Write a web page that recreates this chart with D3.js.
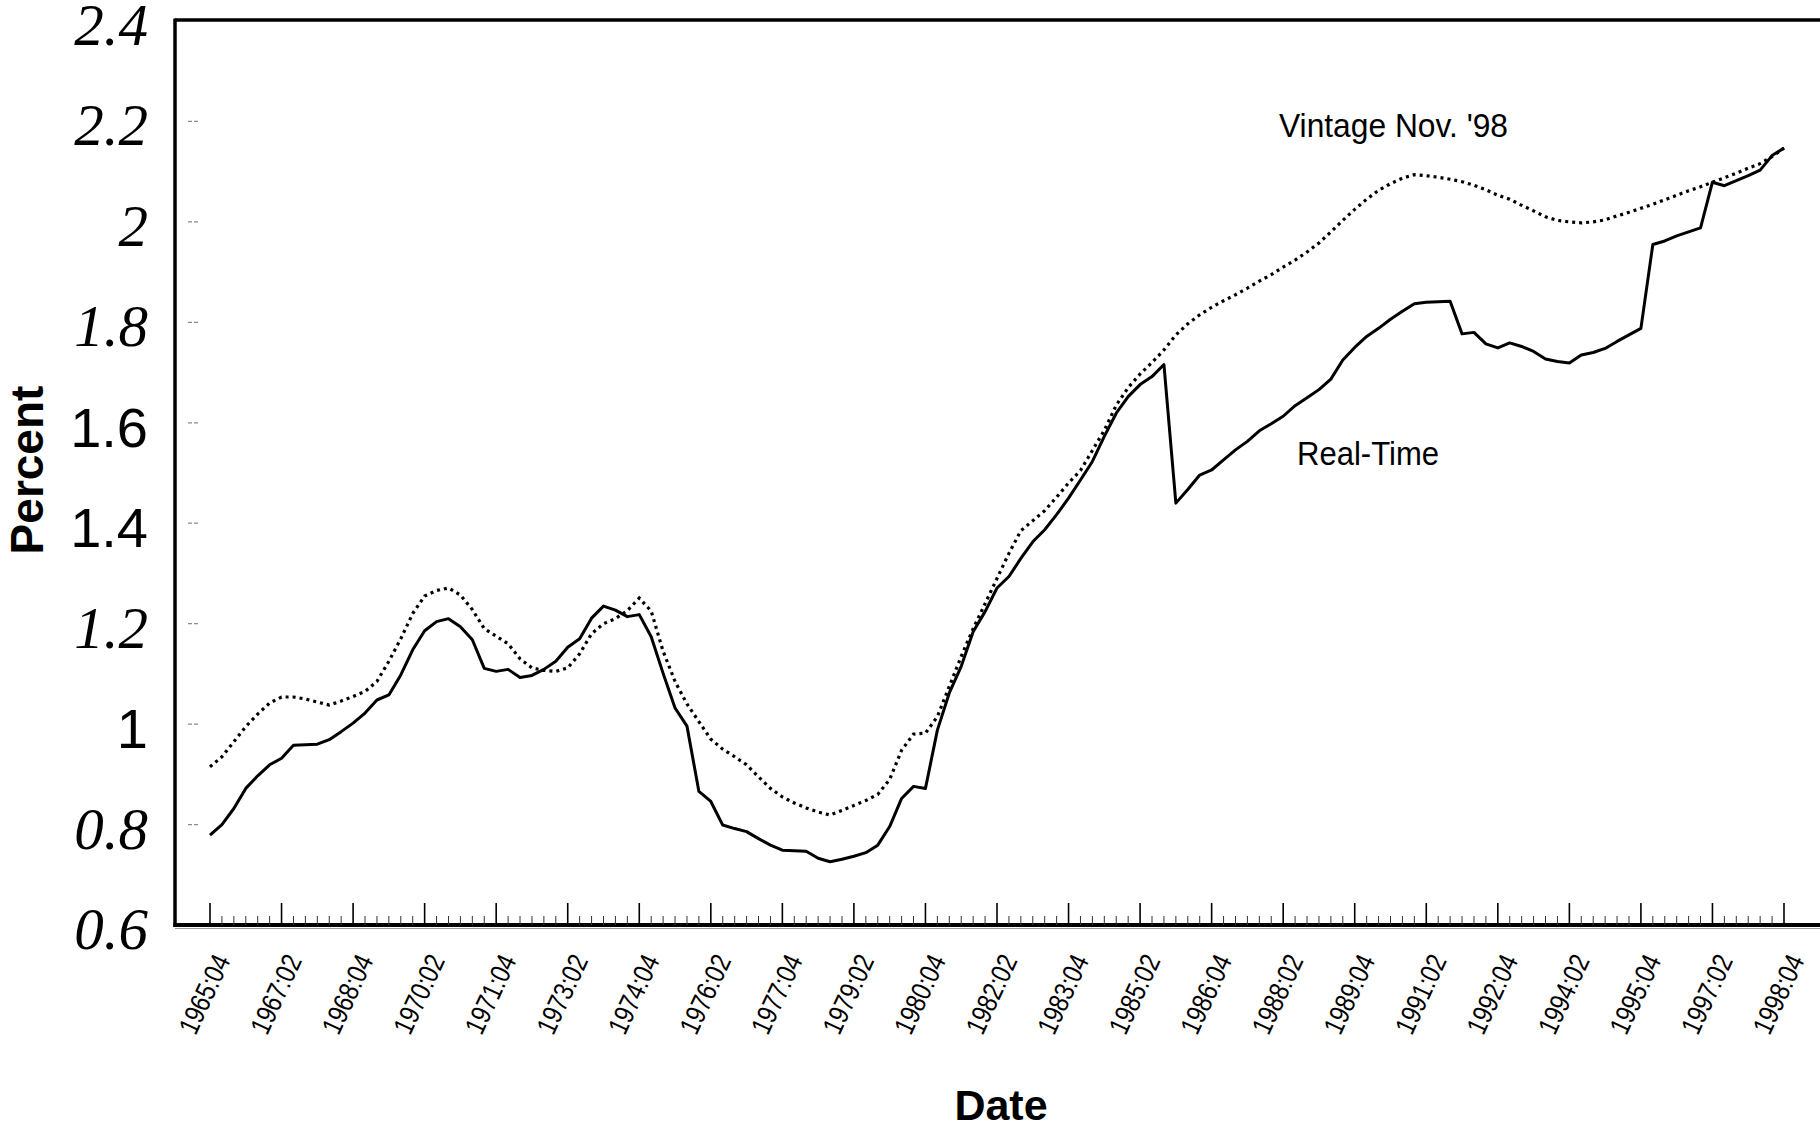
<!DOCTYPE html>
<html>
<head>
<meta charset="utf-8">
<script src="https://cdn.jsdelivr.net/npm/d3@7"></script>
<style>
  html, body { margin: 0; padding: 0; background: #fff; }
  svg { display: block; }
</style>
</head>
<body>
<svg id="chart" width="1820" height="1130"></svg>
<script>
// Quarterly observations, 1965:04 through 1998:04
const startYear = 1965;
const startQuarter = 4;
const endYear = 1998;
const endQuarter = 4;

// Labelled quarters along the date axis
const dateTickLabels = [
  "1965:04", "1967:02", "1968:04", "1970:02", "1971:04", "1973:02",
  "1974:04", "1976:02", "1977:04", "1979:02", "1980:04", "1982:02",
  "1983:04", "1985:02", "1986:04", "1988:02", "1989:04", "1991:02",
  "1992:04", "1994:02", "1995:04", "1997:02", "1998:04"
];

// Percent axis ticks
const percentTicks = [0.6, 0.8, 1.0, 1.2, 1.4, 1.6, 1.8, 2.0, 2.2, 2.4];
const percentTickLabels = ["0.6", "0.8", "1", "1.2", "1.4", "1.6", "1.8", "2", "2.2", "2.4"];

// Real-time series (solid line)
const realTime = [
  0.779, 0.800, 0.832, 0.872, 0.897, 0.919, 0.932, 0.958, 0.959, 0.960,
  0.969, 0.985, 1.002, 1.022, 1.048, 1.058, 1.098, 1.148, 1.186, 1.204,
  1.210, 1.194, 1.168, 1.111, 1.105, 1.109, 1.093, 1.097, 1.109, 1.125,
  1.153, 1.170, 1.211, 1.235, 1.227, 1.214, 1.218, 1.174, 1.101, 1.032,
  0.996, 0.866, 0.846, 0.799, 0.792, 0.786, 0.772, 0.759, 0.749, 0.748,
  0.747, 0.733, 0.726, 0.731, 0.737, 0.744, 0.759, 0.796, 0.852, 0.876,
  0.872, 0.988, 1.062, 1.115, 1.184, 1.224, 1.271, 1.294, 1.330, 1.363,
  1.387, 1.417, 1.450, 1.486, 1.523, 1.573, 1.619, 1.652, 1.676, 1.692,
  1.716, 1.440, 1.467, 1.496, 1.506, 1.526, 1.546, 1.563, 1.584, 1.598,
  1.613, 1.634, 1.650, 1.666, 1.687, 1.725, 1.750, 1.772, 1.788, 1.806,
  1.822, 1.837, 1.840, 1.841, 1.842, 1.777, 1.780, 1.757, 1.749, 1.759,
  1.752, 1.742, 1.727, 1.722, 1.719, 1.735, 1.740, 1.748, 1.762, 1.775,
  1.788, 1.955, 1.962, 1.972, 1.980, 1.988, 2.079, 2.072, 2.082, 2.092,
  2.103, 2.132, 2.147
];

// Vintage Nov. '98 series (dotted line)
const vintageNov98 = [
  0.915, 0.935, 0.965, 0.995, 1.020, 1.042, 1.054, 1.054, 1.050, 1.044,
  1.038, 1.046, 1.055, 1.065, 1.085, 1.125, 1.170, 1.220, 1.255, 1.266,
  1.271, 1.257, 1.228, 1.190, 1.175, 1.160, 1.130, 1.112, 1.107, 1.105,
  1.112, 1.140, 1.180, 1.200, 1.210, 1.226, 1.251, 1.225, 1.145, 1.085,
  1.040, 1.005, 0.970, 0.950, 0.935, 0.919, 0.895, 0.872, 0.855, 0.843,
  0.833, 0.825, 0.819, 0.828, 0.838, 0.848, 0.860, 0.890, 0.948, 0.980,
  0.982, 1.015, 1.075, 1.135, 1.190, 1.240, 1.290, 1.340, 1.385, 1.405,
  1.425, 1.452, 1.480, 1.505, 1.545, 1.585, 1.635, 1.670, 1.697, 1.720,
  1.745, 1.775, 1.797, 1.815, 1.830, 1.843, 1.855, 1.868, 1.882, 1.895,
  1.910, 1.924, 1.940, 1.958, 1.980, 2.003, 2.025, 2.045, 2.063, 2.076,
  2.087, 2.094, 2.092, 2.089, 2.085, 2.080, 2.073, 2.064, 2.053, 2.045,
  2.033, 2.022, 2.010, 2.003, 2.000, 1.998, 2.000, 2.004, 2.012, 2.019,
  2.027, 2.035, 2.044, 2.053, 2.062, 2.070, 2.079, 2.088, 2.097, 2.107,
  2.116, 2.130, 2.147
];

const seriesLabels = { vintage: "Vintage Nov. '98", realTime: "Real-Time" };
const axisTitles = { x: "Date", y: "Percent" };

// ---- quarter keys for the run of dates ----
const quarters = [];
for (let yr = startYear, qt = startQuarter; yr < endYear || (yr === endYear && qt <= endQuarter); ) {
  quarters.push(yr + ":0" + qt);
  qt += 1;
  if (qt > 4) { qt = 1; yr += 1; }
}

const svg = d3.select("#chart");
const W = 1820, H = 1130;
const plotLeft = 175, plotTop = 21, plotBottom = 925;

const x = d3.scalePoint().domain(quarters).range([210, 1784]);
const y = d3.scaleLinear().domain([0.6, 2.4]).range([plotBottom, plotTop]);

const sans = "'Liberation Sans', Arial, Helvetica, sans-serif";
const serif = "'Liberation Serif', 'Times New Roman', serif";

svg.append("rect").attr("width", W).attr("height", H).attr("fill", "#fff");

// ---- frame ----
const frame = svg.append("g").attr("stroke", "#000").attr("fill", "none");
frame.append("line").attr("x1", plotLeft).attr("x2", W).attr("y1", 20).attr("y2", 20).attr("stroke-width", 3.5);
frame.append("line").attr("x1", plotLeft).attr("x2", plotLeft).attr("y1", 18.5).attr("y2", plotBottom + 2).attr("stroke-width", 3.5);
frame.append("line").attr("x1", plotLeft - 1.5).attr("x2", W).attr("y1", plotBottom).attr("y2", plotBottom).attr("stroke-width", 4);
svg.append("line").attr("x1", plotLeft).attr("x2", W).attr("y1", plotBottom + 3.5).attr("y2", plotBottom + 3.5)
  .attr("stroke", "#9a9a9a").attr("stroke-width", 1);

// ---- date axis ticks: minor every quarter, major at labelled quarters ----
const majorSet = new Set(dateTickLabels);
const ticks = svg.append("g");
ticks.selectAll("line.minor")
  .data(quarters.filter(d => !majorSet.has(d)))
  .join("line")
  .attr("class", "minor")
  .attr("x1", d => x(d)).attr("x2", d => x(d))
  .attr("y1", plotBottom).attr("y2", plotBottom - 9)
  .attr("stroke", "#333").attr("stroke-width", 1);
ticks.selectAll("line.major")
  .data(dateTickLabels)
  .join("line")
  .attr("class", "major")
  .attr("x1", d => x(d)).attr("x2", d => x(d))
  .attr("y1", plotBottom).attr("y2", plotBottom - 22)
  .attr("stroke", "#000").attr("stroke-width", 1.6);

// rotated, narrow-set date labels
svg.append("g").selectAll("text")
  .data(dateTickLabels)
  .join("text")
  .attr("transform", d => `translate(${x(d) - 6},${994}) rotate(-65)`)
  .attr("text-anchor", "middle")
  .attr("dy", "0.36em")
  .attr("font-family", sans)
  .attr("font-size", 28)
  .attr("textLength", 84)
  .attr("lengthAdjust", "spacingAndGlyphs")
  .attr("fill", "#000")
  .text(d => d);

// ---- percent axis: faint tick dashes and mixed-typeface labels ----
svg.append("g").selectAll("line")
  .data(percentTicks.filter(v => v > 0.6 && v < 2.4))
  .join("line")
  .attr("x1", 188).attr("x2", 198)
  .attr("y1", v => y(v)).attr("y2", v => y(v))
  .attr("stroke", "#8a8a8a").attr("stroke-width", 1.2)
  .attr("stroke-dasharray", "4 2");

const uprightLabels = new Set(["1", "1.4", "1.6"]);
svg.append("g").selectAll("text")
  .data(percentTicks.map((v, i) => ({ v, label: percentTickLabels[i] })))
  .join("text")
  .attr("x", 148)
  .attr("y", d => y(d.v) + 24)
  .attr("text-anchor", "end")
  .attr("font-family", d => uprightLabels.has(d.label) ? sans : serif)
  .attr("font-style", d => uprightLabels.has(d.label) ? "normal" : "italic")
  .attr("font-size", d => uprightLabels.has(d.label) ? 56 : 59)
  .attr("fill", "#000")
  .text(d => d.label);

// ---- axis titles ----
svg.append("text")
  .attr("transform", "translate(43,470) rotate(-90)")
  .attr("text-anchor", "middle")
  .attr("font-family", sans).attr("font-weight", "bold").attr("font-size", 46)
  .text(axisTitles.y);

svg.append("text")
  .attr("x", 1001).attr("y", 1120)
  .attr("text-anchor", "middle")
  .attr("font-family", sans).attr("font-weight", "bold").attr("font-size", 43)
  .text(axisTitles.x);

// ---- series ----
const line = d3.line()
  .x((d, i) => x(quarters[i]))
  .y(d => y(d));

svg.append("path")
  .datum(vintageNov98)
  .attr("d", line)
  .attr("fill", "none")
  .attr("stroke", "#000")
  .attr("stroke-width", 3.2)
  .attr("stroke-dasharray", "3 4");

svg.append("path")
  .datum(realTime)
  .attr("d", line)
  .attr("fill", "none")
  .attr("stroke", "#000")
  .attr("stroke-width", 3)
  .attr("stroke-linejoin", "round");

// ---- series labels ----
svg.append("text")
  .attr("x", 1279).attr("y", 137)
  .attr("font-family", sans).attr("font-size", 33)
  .attr("textLength", 229).attr("lengthAdjust", "spacingAndGlyphs")
  .text(seriesLabels.vintage);

svg.append("text")
  .attr("x", 1297).attr("y", 465)
  .attr("font-family", sans).attr("font-size", 33)
  .attr("textLength", 142).attr("lengthAdjust", "spacingAndGlyphs")
  .text(seriesLabels.realTime);
</script>
</body>
</html>
